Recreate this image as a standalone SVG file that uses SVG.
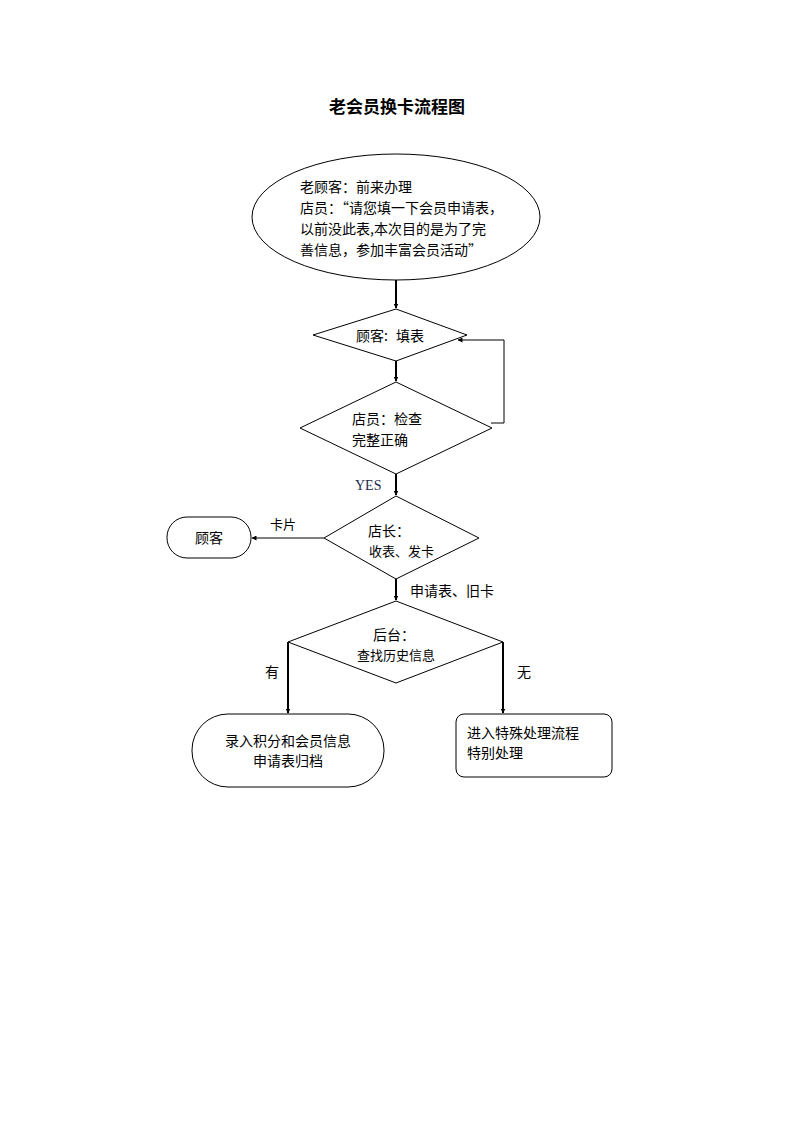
<svg xmlns="http://www.w3.org/2000/svg" width="794" height="1123" viewBox="0 0 794 1123">
<defs>
<marker id="arr" viewBox="0 0 10 10" refX="9" refY="5" markerWidth="5" markerHeight="5" orient="auto" markerUnits="userSpaceOnUse">
<path d="M0,0 L10,5 L0,10 z" fill="#000"/>
</marker>
<style>
.shape{fill:#fff;stroke:#000;stroke-width:1}
.t{font-family:"Noto Sans CJK SC","Noto Sans",sans-serif;font-size:14px;fill:#000}
.s{font-size:13px}
.c{stroke:#000;stroke-width:2;fill:none}
.c1{stroke:#000;stroke-width:1;fill:none}
</style>
</defs>
<rect width="794" height="1123" fill="#fff"/>
<text x="397" y="113" text-anchor="middle" class="t" style="font-size:17px;font-weight:bold">老会员换卡流程图</text>

<g id="n1">
<ellipse cx="396" cy="217" rx="144" ry="63" class="shape"/>
<text class="t" x="300" y="192">老顾客：前来办理</text>
<text class="t" x="300" y="213">店员：“请您填一下会员申请表，</text>
<text class="t" x="300" y="234">以前没此表,本次目的是为了完</text>
<text class="t" x="300" y="255">善信息，参加丰富会员活动”</text>
</g>
<g id="n2">
<polygon points="396,309 467,335 396,361 313,335" class="shape"/>
<text class="t" x="356" y="341">顾客:</text>
<text class="t" x="396" y="341">填表</text>
</g>
<g id="n3">
<polygon points="396,382 492,428 396,474 300,428" class="shape"/>
<text class="t" x="352" y="424">店员：检查</text>
<text class="t" x="352" y="445">完整正确</text>
</g>
<g id="n4">
<polygon points="396,496 479,538 396,579 324,538" class="shape"/>
<text class="t" x="368" y="536">店长：</text>
<text class="t s" x="369" y="556">收表、发卡</text>
</g>
<g id="n5">
<rect x="167" y="517" width="84" height="41" rx="20" class="shape"/>
<text class="t" x="209" y="543" text-anchor="middle">顾客</text>
</g>
<g id="n6">
<polygon points="396,601 503,642 396,683 288,642" class="shape"/>
<text class="t" x="394" y="640" text-anchor="middle">后台：</text>
<text class="t s" x="396" y="660" text-anchor="middle">查找历史信息</text>
</g>
<g id="n7">
<rect x="192" y="714" width="192" height="73" rx="36" class="shape"/>
<text class="t" x="288" y="746" text-anchor="middle">录入积分和会员信息</text>
<text class="t" x="288" y="766" text-anchor="middle">申请表归档</text>
</g>
<g id="n8">
<rect x="456" y="714" width="156" height="63" rx="8" class="shape"/>
<text class="t" x="467" y="738">进入特殊处理流程</text>
<text class="t" x="467" y="758">特别处理</text>
</g>

<g id="connectors">
<line x1="396" y1="280" x2="396" y2="308" class="c" marker-end="url(#arr)"/>
<line x1="396" y1="361" x2="396" y2="381" class="c" marker-end="url(#arr)"/>
<polyline points="491,423 504,423 504,340 458,340" class="c1" marker-end="url(#arr)"/>
<line x1="396" y1="474" x2="396" y2="495" class="c" marker-end="url(#arr)"/>
<line x1="324" y1="538" x2="252" y2="538" class="c1" marker-end="url(#arr)"/>
<line x1="396" y1="579" x2="396" y2="600" class="c" marker-end="url(#arr)"/>
<line x1="288" y1="642" x2="288" y2="713" class="c" marker-end="url(#arr)"/>
<line x1="503" y1="642" x2="503" y2="713" class="c" marker-end="url(#arr)"/>
<text x="355" y="490" style="font-family:'Liberation Serif',serif;font-size:14px;fill:#1a2a50">YES</text>
<text class="t s" x="270" y="529">卡片</text>
<text class="t" x="410" y="596">申请表、旧卡</text>
<text class="t" x="265" y="677">有</text>
<text class="t" x="517" y="677">无</text>
</g>
</svg>
